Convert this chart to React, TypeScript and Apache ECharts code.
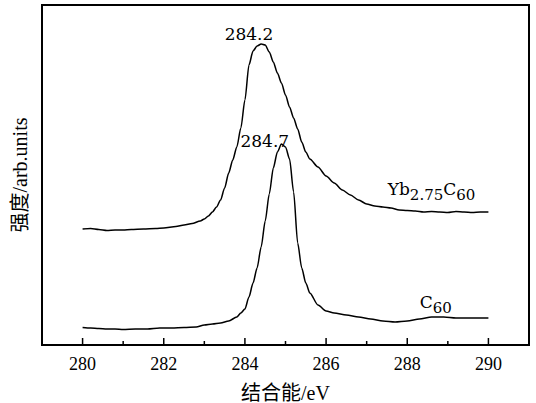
import React, { useEffect, useRef } from "react";
import * as echarts from "echarts";

// Binding energy (eV) and intensity (arb. units)
const ybX = [280.0, 280.2, 280.4, 280.6, 280.8, 281.0, 281.2, 281.5, 281.8, 282.0, 282.3, 282.5, 282.7, 282.9, 283.0, 283.1, 283.2, 283.3, 283.4, 283.5, 283.6, 283.7, 283.8, 283.9, 284.0, 284.1, 284.2, 284.3, 284.4, 284.5, 284.6, 284.7, 284.8, 284.9, 285.0, 285.1, 285.2, 285.3, 285.4, 285.5, 285.6, 285.8, 286.0, 286.2, 286.4, 286.6, 286.8, 287.0, 287.2, 287.4, 287.6, 287.8, 288.0, 288.2, 288.4, 288.6, 288.8, 289.0, 289.2, 289.4, 289.6, 289.8, 290.0];
const ybY = [116, 116.5, 115.5, 114.5, 115, 115, 115.5, 116, 116.5, 117, 118.5, 120, 121.5, 124, 126, 129, 133, 138, 145, 157, 172, 185, 198, 217, 245, 280, 294, 299, 301, 300, 293, 283, 272, 262, 250, 238, 227, 216, 203, 193, 186, 178, 169, 162, 155, 150, 145, 141, 139, 138, 137, 135, 134.5, 134, 133, 133.5, 133, 132.5, 133.5, 133, 132.5, 133, 133];

const c60X = [280.0, 280.2, 280.4, 280.6, 280.8, 281.0, 281.3, 281.6, 281.9, 282.2, 282.5, 282.8, 283.0, 283.2, 283.4, 283.6, 283.8, 283.9, 284.0, 284.1, 284.2, 284.3, 284.4, 284.5, 284.6, 284.7, 284.8, 284.9, 285.0, 285.1, 285.2, 285.3, 285.4, 285.5, 285.6, 285.8, 286.0, 286.2, 286.5, 286.8, 287.1, 287.4, 287.7, 288.0, 288.3, 288.6, 288.9, 289.2, 289.5, 289.8, 290.0];
const c60Y = [17.5, 17, 16.5, 16, 16, 15.5, 16, 16, 17, 17, 17.5, 18, 20, 21, 22, 24, 28, 32, 36, 48, 62, 77, 98, 124, 151, 177, 193, 201, 198, 186, 153, 102, 77, 62, 52, 40, 34, 32, 30, 28, 26, 24, 23, 24, 26, 28, 28, 27, 27, 27, 27];

const majorTicks = [280, 282, 284, 286, 288, 290];
const minorTicks = [281, 283, 285, 287, 289];

const peakLabels = ["284.2", "284.7"];
const peakPos = [[284.1, 311], [284.49, 204]];
const nameYb = ["Yb", "2.75", "C", "60"];
const nameC = ["C", "60"];

const FONT = "'Liberation Serif', 'Noto Sans CJK SC', serif";
const FONT2 = "'DejaVu Serif', serif";

const rich = {
  b: { fontFamily: FONT2, fontSize: 17, color: "#000", verticalAlign: "bottom", lineHeight: 20 },
  s: { fontFamily: FONT2, fontSize: 15, color: "#000", verticalAlign: "bottom", lineHeight: 17, padding: [0, 0, -5, 0] },
};

const GRID = { left: 42, top: 5, width: 487, height: 340 };

export default function App() {
  const ref = useRef<HTMLDivElement>(null);
  useEffect(() => {
    if (!ref.current) return;
    const chart = echarts.init(ref.current, undefined, { renderer: "svg" });
    const tickData = [
      ...majorTicks.map((v) => [v, 7]),
      ...minorTicks.map((v) => [v, 4]),
    ];
    chart.setOption({
      animation: false,
      backgroundColor: "#ffffff",
      grid: {
        left: GRID.left,
        top: GRID.top,
        width: GRID.width,
        height: GRID.height,
        outerBoundsMode: "none",
        containLabel: false,
        show: true,
        borderColor: "#000",
        borderWidth: 2,
        backgroundColor: "transparent",
      },
      xAxis: {
        type: "value",
        min: 279,
        max: 291,
        interval: 1,
        axisLine: { show: true, onZero: false, lineStyle: { color: "#000", width: 2 } },
        axisTick: { show: false },
        splitLine: { show: false },
        axisLabel: {
          color: "#000",
          fontFamily: FONT,
          fontSize: 18,
          margin: 10,
          formatter: (v: number) => (majorTicks.includes(v) ? String(v) : ""),
        },
        name: "结合能/eV",
        nameLocation: "middle",
        nameGap: 38,
        nameTextStyle: { color: "#000", fontFamily: FONT, fontSize: 20, verticalAlign: "top" },
      },
      yAxis: {
        type: "value",
        min: 0,
        max: 340,
        axisLine: { show: true, onZero: false, lineStyle: { color: "#000", width: 2 } },
        axisTick: { show: false },
        axisLabel: { show: false },
        splitLine: { show: false },
        name: "强度/arb.units",
        nameLocation: "middle",
        nameGap: 12,
        nameTextStyle: { color: "#000", fontFamily: FONT, fontSize: 20 },
      },
      series: [
        {
          type: "line",
          data: ybX.map((x, i) => [x, ybY[i]]),
          showSymbol: false,
          smooth: 0.25,
          smoothMonotone: "x",
          lineStyle: { color: "#000", width: 1.5 },
          markPoint: {
            symbol: "circle",
            symbolSize: 0,
            label: { show: true, color: "#000", fontFamily: FONT2, fontSize: 17, position: "inside" },
            data: [
              { coord: peakPos[0], label: { formatter: peakLabels[0] } },
              {
                coord: [287.52, 158],
                label: {
                  align: "left",
                  formatter: `{b|${nameYb[0]}}{s|${nameYb[1]}}{b|${nameYb[2]}}{s|${nameYb[3]}}`,
                  rich,
                },
              },
            ],
          },
        },
        {
          type: "line",
          data: c60X.map((x, i) => [x, c60Y[i]]),
          showSymbol: false,
          smooth: 0.25,
          smoothMonotone: "x",
          lineStyle: { color: "#000", width: 1.5 },
          markPoint: {
            symbol: "circle",
            symbolSize: 0,
            label: { show: true, color: "#000", fontFamily: FONT2, fontSize: 17, position: "inside" },
            data: [
              { coord: peakPos[1], label: { formatter: peakLabels[1] } },
              {
                coord: [288.31, 45],
                label: { align: "left", formatter: `{b|${nameC[0]}}{s|${nameC[1]}}`, rich },
              },
            ],
          },
        },
        {
          type: "custom",
          data: tickData,
          silent: true,
          renderItem: (params: any, api: any) => {
            const p = api.coord([api.value(0), 0]);
            const len = api.value(1);
            return {
              type: "line",
              shape: { x1: p[0], y1: p[1], x2: p[0], y2: p[1] - len },
              style: { stroke: "#000", lineWidth: 1.5 },
            };
          },
        },
      ],
    });
    return () => chart.dispose();
  }, []);
  return (
    <div
      ref={ref}
      style={{ position: "fixed", left: 0, top: 0, width: 536, height: 403 }}
    />
  );
}
